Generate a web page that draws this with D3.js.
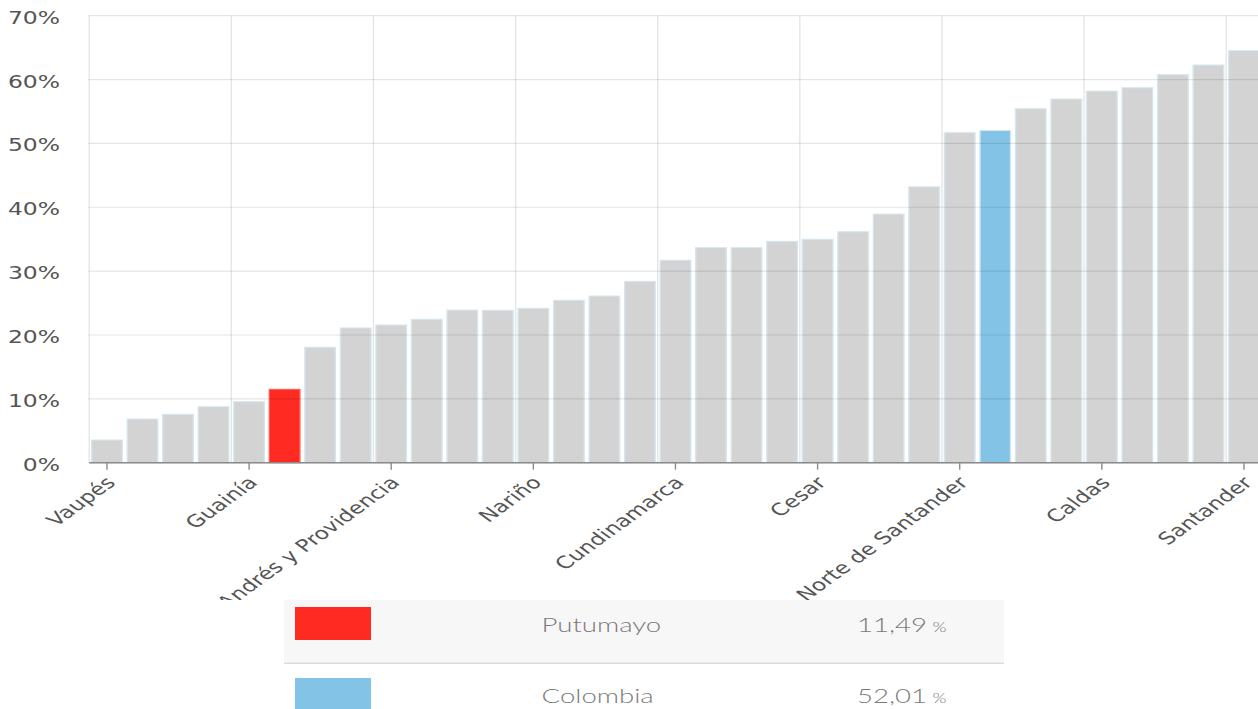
<!DOCTYPE html>
<html>
<head>
<meta charset="utf-8">
<script src="https://cdn.jsdelivr.net/npm/d3@7"></script>
<style>
  html, body { margin: 0; padding: 0; background: #fff; overflow: hidden; }
  svg { display: block; }
</style>
</head>
<body>
<svg id="chart" width="1258" height="709"></svg>
<script>
// ---------------- DATA ----------------
const categories = [
  "Vaupés", "Vichada", "Amazonas", "Guaviare", "Guainía", "Putumayo",
  "Caquetá", "Chocó", "San Andrés y Providencia", "La Guajira", "Arauca",
  "Cauca", "Nariño", "Córdoba", "Sucre", "Magdalena", "Cundinamarca",
  "Bolívar", "Huila", "Casanare", "Cesar", "Tolima", "Meta", "Boyacá",
  "Norte de Santander", "Colombia", "Atlántico", "Quindío", "Caldas",
  "Risaralda", "Valle del Cauca", "Antioquia", "Santander"
];
const values = [
  3.55, 6.84, 7.57, 8.77, 9.55, 11.49,
  18.07, 21.10, 21.56, 22.45, 23.90,
  23.86, 24.17, 25.43, 26.10, 28.40, 31.70,
  33.67, 33.67, 34.67, 34.98, 36.17, 38.93, 43.20,
  51.68, 52.01, 55.43, 56.95, 58.20,
  58.72, 60.76, 62.28, 64.52
];
const highlightRed = "Putumayo";
const highlightBlue = "Colombia";
const yTicks = [0, 10, 20, 30, 40, 50, 60, 70];
const tickEvery = 4;
const legendNames = ["Putumayo", "Colombia"];
const legendValues = ["11,49", "52,01"];

// ---------------- LAYOUT ----------------
const STRETCH = 1.38;               // reference is horizontally stretched
const W = 1258 / STRETCH, H = 709;
const svg = d3.select("#chart")
  .attr("viewBox", `0 0 ${W} ${H}`)
  .attr("preserveAspectRatio", "none");

const colors = { bar: "#d3d3d3", red: "#ff2a22", blue: "#83c4e6" };

const x = d3.scaleBand()
  .domain(d3.range(categories.length))
  .range([64.64, 914.3])
  .paddingInner(0.14)
  .paddingOuter(0.07);
const y = d3.scaleLinear().domain([0, 70]).range([462.7, 15.7]);

svg.append("defs").append("clipPath").attr("id", "chartClip")
  .append("rect").attr("x", 0).attr("y", 0).attr("width", W).attr("height", 600);

const chart = svg.append("g").attr("clip-path", "url(#chartClip)");

// bars
chart.append("g").selectAll("rect")
  .data(values)
  .join("rect")
  .attr("x", (d, i) => x(i))
  .attr("width", x.bandwidth())
  .attr("y", d => y(d))
  .attr("height", d => y(0) - y(d))
  .attr("fill", (d, i) => categories[i] === highlightRed ? colors.red
        : categories[i] === highlightBlue ? colors.blue : colors.bar)
  .attr("stroke", (d, i) => categories[i] === highlightRed ? "#ff5a52" : "#d4e6ef")
  .attr("stroke-width", 1);

// gridlines (drawn over bars, translucent)
const grid = chart.append("g").attr("stroke", "rgba(0,0,0,0.1)").attr("fill", "none");
grid.selectAll("line.h").data(yTicks).join("line")
  .attr("class", "h")
  .attr("x1", x.range()[0] - 0.5).attr("x2", W)
  .attr("y1", d => y(d)).attr("y2", d => y(d))
  .attr("stroke-width", 1.2);
const boundaryIdx = d3.range(0, categories.length + 1, tickEvery);
const boundary = i => x.range()[0] + i * x.step();
grid.selectAll("line.v").data(boundaryIdx).join("line")
  .attr("class", "v")
  .attr("x1", d => boundary(d)).attr("x2", d => boundary(d))
  .attr("y1", y(70)).attr("y2", y(0))
  .attr("stroke-width", 1);

// y axis labels
chart.append("g").selectAll("text").data(yTicks).join("text")
  .attr("x", 43.5)
  .attr("y", d => y(d) + 8)
  .attr("text-anchor", "end")
  .attr("font-family", "'DejaVu Sans', Verdana, sans-serif")
  .attr("font-size", 17)
  .attr("fill", "#555")
  .text(d => d + "%");

// x axis line
chart.append("line")
  .attr("x1", x.range()[0]).attr("x2", W)
  .attr("y1", y(0)).attr("y2", y(0))
  .attr("stroke", "#8a8a8a").attr("stroke-width", 1.6);

const labeled = d3.range(0, categories.length, tickEvery);
const cx = i => x(i) + x.bandwidth() / 2;
chart.append("g").selectAll("line").data(labeled).join("line")
  .attr("x1", cx).attr("x2", cx)
  .attr("y1", y(0)).attr("y2", y(0) + 7)
  .attr("stroke", "#8a8a8a").attr("stroke-width", 1);

chart.append("g").selectAll("text").data(labeled).join("text")
  .attr("transform", i => `translate(${cx(i) + 7},${y(0) + 21}) rotate(-45)`)
  .attr("text-anchor", "end")
  .attr("font-family", "'DejaVu Sans', Verdana, sans-serif")
  .attr("font-size", 17)
  .attr("fill", "#555")
  .text(i => categories[i]);

// ---------------- LEGEND TABLE ----------------
const lg = svg.append("g");
const lx0 = 284 / STRETCH, lx1 = 1004 / STRETCH;
lg.append("rect").attr("x", lx0).attr("y", 600).attr("width", lx1 - lx0).attr("height", 62.5)
  .attr("fill", "#f7f7f7");
lg.append("line").attr("x1", lx0).attr("x2", lx1).attr("y1", 663.3).attr("y2", 663.3)
  .attr("stroke", "#dcdcdc").attr("stroke-width", 1.5);

const rowTop = [607, 678];
const rowBase = [632.3, 703.3];
const swatchColors = [colors.red, colors.blue];
legendNames.forEach((name, r) => {
  lg.append("rect")
    .attr("x", 295 / STRETCH).attr("y", rowTop[r])
    .attr("width", 76 / STRETCH).attr("height", 33)
    .attr("fill", swatchColors[r]);
  lg.append("text")
    .attr("x", 541.5 / STRETCH).attr("y", rowBase[r])
    .attr("font-family", "Lato, 'Open Sans', sans-serif")
    .attr("font-weight", 300)
    .attr("font-size", 20)
    .attr("fill", "#7a7a7a")
    .text(name);
  const t = lg.append("text")
    .attr("x", 946.5 / STRETCH).attr("y", rowBase[r])
    .attr("text-anchor", "end")
    .attr("font-family", "Lato, 'Open Sans', sans-serif")
    .attr("font-weight", 300)
    .attr("font-size", 20)
    .attr("fill", "#7a7a7a");
  t.append("tspan").text(legendValues[r]);
  t.append("tspan").attr("dx", 4).attr("font-size", 13).text("%");
});
</script>
</body>
</html>
